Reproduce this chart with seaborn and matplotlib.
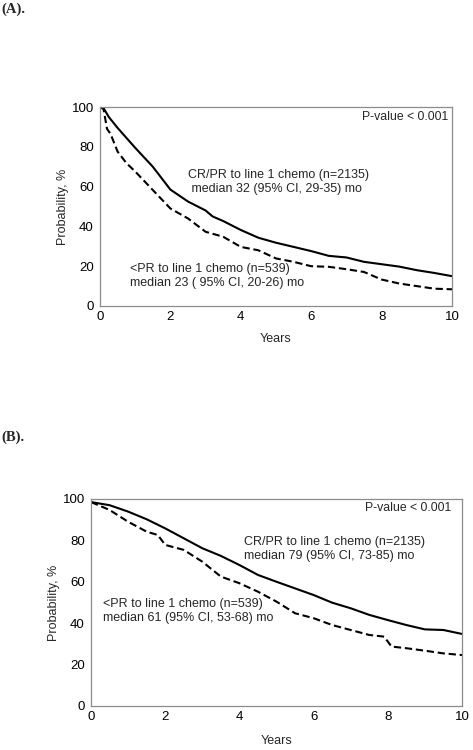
import numpy as np
import pandas as pd
import matplotlib.pyplot as plt
import seaborn as sns

# Values (years, survival probability %)
years_a = [0, 0.1, 0.25, 0.5, 1, 1.5, 2, 2.5, 3, 3.2, 3.5, 4, 4.5, 5, 5.5, 6, 6.5, 7, 7.5, 8, 8.5, 9, 9.5, 10]
crpr_a = [100, 99.5, 95, 89.5, 79.5, 70, 58.5, 52.5, 48, 45, 42.7, 38.2, 34.3, 31.8, 29.7, 27.6, 25.2, 24.4, 22.2, 21, 19.8, 18, 16.6, 15]
years_a2 = [0, 0.1, 0.2, 0.3, 0.5, 0.75, 1, 1.5, 2, 2.5, 3, 3.5, 4, 4.5, 5, 5.5, 6, 6.5, 7, 7.5, 8, 8.5, 9, 9.5, 10]
ltpr_a = [100, 99, 89, 86.5, 77.6, 71.8, 67.6, 58.3, 49, 44, 37.3, 34.8, 29.7, 28, 23.9, 22.2, 20, 19.7, 18.5, 17.1, 13.3, 11.3, 10, 8.7, 8.4]

years_b = [0, 0.5, 1, 1.5, 2, 2.5, 3, 3.5, 4, 4.5, 5, 5.5, 6, 6.5, 7, 7.5, 8, 8.5, 9, 9.5, 10]
crpr_b = [98.5, 97, 93.9, 90.2, 85.8, 81, 76.2, 72.5, 68.1, 63.3, 60, 56.8, 53.6, 49.9, 47.2, 44, 41.5, 39.1, 37, 36.7, 34.8]
years_b2 = [0, 0.5, 1, 1.5, 1.8, 2, 2.5, 3, 3.5, 4, 4.5, 5, 5.5, 6, 6.5, 7, 7.5, 7.9, 8.1, 8.5, 9, 9.5, 10]
ltpr_b = [98.5, 94.7, 89, 84.2, 82.6, 77.8, 75.4, 69.7, 62.5, 59.3, 55.2, 50.4, 44.8, 42.4, 39.1, 36.7, 34.3, 33.5, 28.7, 27.9, 26.7, 25.4, 24.6]

sns.set_style("white")
plt.rcParams['font.family'] = ['Liberation Sans', 'DejaVu Sans']

fig = plt.figure(figsize=(4.73, 7.5), dpi=100)
ax_a = fig.add_axes([0.2114, 0.592, 0.7442, 0.2653])
ax_b = fig.add_axes([0.1924, 0.0587, 0.7844, 0.276])


def km_panel(ax, t1, s1, t2, s2, txt_hi, pos_hi, txt_lo, pos_lo, pval_pos, xlab_pad):
    d1 = pd.DataFrame({'Years': t1, 'Prob': s1})
    d2 = pd.DataFrame({'Years': t2, 'Prob': s2})
    sns.lineplot(data=d1, x='Years', y='Prob', ax=ax, color='black', lw=1.5)
    sns.lineplot(data=d2, x='Years', y='Prob', ax=ax, color='black', lw=1.5, linestyle=(0, (3.5, 1.8)))
    ax.set_xlim(0, 10)
    ax.set_ylim(0, 100)
    ax.set_xticks(range(0, 11, 2))
    ax.set_xticks(range(1, 10, 2), minor=True)
    ax.set_yticks(range(0, 101, 20))
    ax.set_yticks(range(10, 100, 20), minor=True)
    for s in ax.spines.values():
        s.set_color('#8c8c8c')
        s.set_linewidth(0.9)
    ax.tick_params(axis='both', which='both', colors='#8c8c8c', labelcolor='black',
                   labelsize=9.5, length=3, width=0.8, pad=1.5)
    ax.tick_params(axis='x', which='both', direction='in', pad=3.5)
    ax.set_xlabel('Years', fontsize=9, labelpad=xlab_pad)
    ax.set_ylabel('Probability, %', fontsize=9, labelpad=2)
    ax.text(pos_hi[0], pos_hi[1], txt_hi, fontsize=9, va='center', linespacing=1.2)
    ax.text(pos_lo[0], pos_lo[1], txt_lo, fontsize=9, va='center', linespacing=1.2)
    ax.text(pval_pos[0], pval_pos[1], 'P-value < 0.001', fontsize=8.8, ha='right', va='center')


km_panel(ax_a, years_a, crpr_a, years_a2, ltpr_a,
         'CR/PR to line 1 chemo (n=2135)\n median 32 (95% CI, 29-35) mo', (2.5, 62.5),
         '<PR to line 1 chemo (n=539)\nmedian 23 ( 95% CI, 20-26) mo', (0.85, 15),
         (9.9, 95), 7)
km_panel(ax_b, years_b, crpr_b, years_b2, ltpr_b,
         'CR/PR to line 1 chemo (n=2135)\nmedian 79 (95% CI, 73-85) mo', (4.13, 76),
         '<PR to line 1 chemo (n=539)\nmedian 61 (95% CI, 53-68) mo', (0.33, 46),
         (9.7, 95.6), 9)

fig.text(0.002, 0.988, '(A).', fontsize=10.5, fontweight='bold', family='Liberation Serif', va='center')
fig.text(0.002, 0.417, '(B).', fontsize=10.5, fontweight='bold', family='Liberation Serif', va='center')

fig.savefig('out.png', dpi=100, facecolor='white')
